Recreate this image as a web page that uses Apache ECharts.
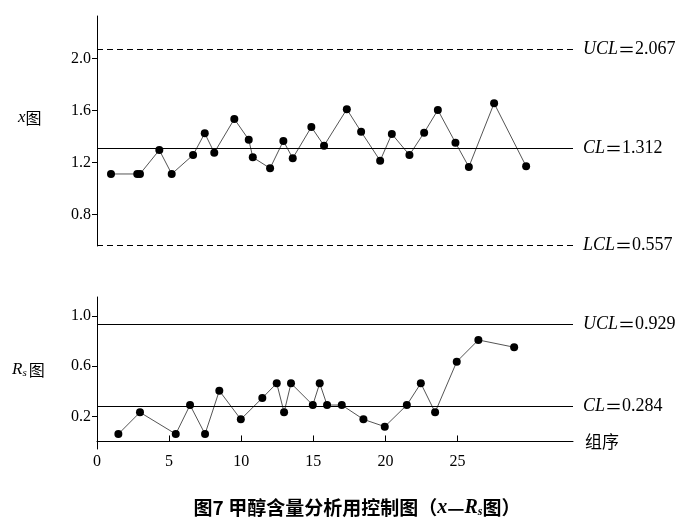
<!DOCTYPE html>
<html>
<head>
<meta charset="utf-8">
<script src="https://cdn.jsdelivr.net/npm/echarts@6/dist/echarts.min.js"></script>
<style>html,body{margin:0;padding:0;background:#fff}#c{width:688px;height:530px}</style>
</head>
<body>
<div id="c"></div>
<script>
// ---- data ----
const xGroup = [0.97,2.79,2.98,4.32,5.18,6.66,7.47,8.13,9.52,10.52,10.80,12.00,12.92,13.57,14.86,15.74,17.32,18.31,19.63,20.44,21.66,22.68,23.63,24.85,25.78,27.53,29.75];
const xValues = [1.111,1.111,1.111,1.295,1.111,1.257,1.424,1.275,1.534,1.375,1.239,1.155,1.365,1.232,1.472,1.329,1.609,1.436,1.213,1.419,1.257,1.429,1.603,1.352,1.165,1.655,1.170];
const rGroup = [1.48,2.98,5.46,6.45,7.49,8.48,9.97,11.46,12.46,12.97,13.45,14.96,15.44,15.95,16.97,18.47,19.95,21.48,22.45,23.44,24.94,26.44,28.92];
const rValues = [0.059,0.232,0.059,0.290,0.059,0.404,0.176,0.346,0.463,0.232,0.463,0.290,0.463,0.290,0.290,0.176,0.118,0.290,0.463,0.232,0.635,0.808,0.750];
const xLimits = {UCL: 2.067, CL: 1.312, LCL: 0.557};
const rLimits = {UCL: 0.929, CL: 0.284};
const xTicks = [0.8, 1.2, 1.6, 2.0];
const rTicks = [0.2, 0.6, 1.0];
const groupTicks = [0, 5, 10, 15, 20, 25];

const serif = '"Liberation Serif","DejaVu Serif",serif';
const cjk = '"Noto Sans CJK SC","Noto Sans",sans-serif';
const pair = (xs, ys) => xs.map((x, i) => [x, ys[i]]);
const labRich = {
  i: {fontFamily: serif, fontStyle: 'italic', fontSize: 18, color: '#000'},
  e: {fontFamily: cjk, fontSize: 17, color: '#000'},
  n: {fontFamily: serif, fontSize: 18, color: '#000'}
};
function limitLine(name, val, dashed) {
  return {
    yAxis: val,
    lineStyle: {color: '#000', width: 1.2, type: dashed ? [6, 4] : 'solid'},
    label: {show: true, position: 'end', distance: 10, formatter: '{i|' + name + '}{e|＝}{n|' + val.toFixed(3) + '}', rich: labRich}
  };
}

const chart = echarts.init(document.getElementById('c'));
chart.setOption({
  animation: false,
  backgroundColor: '#fff',
  grid: [
    {left: 97, top: 16, width: 476, height: 230},
    {left: 97, top: 297, width: 476, height: 152}
  ],
  xAxis: [
    {gridIndex: 0, type: 'value', min: 0, max: 33, show: false},
    {gridIndex: 1, type: 'value', min: 0, max: 33,
     axisLine: {show: true, lineStyle: {color: '#000', width: 1}},
     axisTick: {show: true, inside: true, length: 6, customValues: groupTicks, lineStyle: {color: '#000'}},
     axisLabel: {customValues: groupTicks, fontFamily: serif, fontSize: 16, color: '#000', margin: 5},
     splitLine: {show: false},
     name: '组序', nameLocation: 'end', nameGap: 12,
     nameTextStyle: {fontFamily: cjk, fontSize: 17, color: '#000', verticalAlign: 'middle'}}
  ],
  yAxis: [
    {gridIndex: 0, type: 'value', min: 0.557, max: 2.326,
     axisLine: {show: true, lineStyle: {color: '#000', width: 1}},
     axisTick: {show: true, length: 5, customValues: xTicks, lineStyle: {color: '#000'}},
     axisLabel: {customValues: xTicks, formatter: v => v.toFixed(1), fontFamily: serif, fontSize: 16, color: '#000', margin: 6},
     splitLine: {show: false}},
    {gridIndex: 1, type: 'value', min: -0.06, max: 1.15,
     axisLine: {show: true, lineStyle: {color: '#000', width: 1}},
     axisTick: {show: true, length: 5, customValues: rTicks, lineStyle: {color: '#000'}},
     axisLabel: {customValues: rTicks, formatter: v => v.toFixed(1), fontFamily: serif, fontSize: 16, color: '#000', margin: 6},
     splitLine: {show: false}}
  ],
  series: [
    {type: 'line', xAxisIndex: 0, yAxisIndex: 0, data: pair(xGroup, xValues),
     symbol: 'circle', symbolSize: 8, itemStyle: {color: '#000'},
     lineStyle: {color: '#555', width: 1},
     markLine: {silent: true, symbol: 'none', animation: false,
       data: [limitLine('UCL', xLimits.UCL, true), limitLine('CL', xLimits.CL, false), limitLine('LCL', xLimits.LCL, true)]}},
    {type: 'line', xAxisIndex: 1, yAxisIndex: 1, data: pair(rGroup, rValues),
     symbol: 'circle', symbolSize: 8, itemStyle: {color: '#000'},
     lineStyle: {color: '#555', width: 1},
     markLine: {silent: true, symbol: 'none', animation: false,
       data: [limitLine('UCL', rLimits.UCL, false), limitLine('CL', rLimits.CL, false)]}}
  ],
  graphic: [
    {type: 'text', x: 18, y: 118, style: {
      text: '{i|x}{c|图}', verticalAlign: 'middle',
      rich: {i: {fontFamily: serif, fontStyle: 'italic', fontSize: 17, color: '#000'},
             c: {fontFamily: cjk, fontSize: 16, color: '#000'}}}},
    {type: 'text', x: 12, y: 370, style: {
      text: '{i|R}{s|s}{c|图}', verticalAlign: 'middle',
      rich: {i: {fontFamily: serif, fontStyle: 'italic', fontSize: 17, color: '#000'},
             s: {fontFamily: serif, fontStyle: 'italic', fontSize: 11, color: '#000', verticalAlign: 'bottom', padding: [6, 2, 0, 0]},
             c: {fontFamily: cjk, fontSize: 16, color: '#000'}}}},
    {type: 'text', x: 357, y: 508, style: {
      text: '{a|图7 甲醇含量分析用控制图（}{i|x}{a|—}{i|R}{s|s}{a|图）}', align: 'center', verticalAlign: 'middle',
      rich: {a: {fontFamily: cjk, fontWeight: 'bold', fontSize: 19, color: '#000'},
             i: {fontFamily: serif, fontStyle: 'italic', fontWeight: 'bold', fontSize: 20, color: '#000'},
             s: {fontFamily: serif, fontStyle: 'italic', fontWeight: 'bold', fontSize: 12, color: '#000', verticalAlign: 'bottom', padding: [6, 0, 0, 0]}}}}
  ]
});
</script>
</body>
</html>
